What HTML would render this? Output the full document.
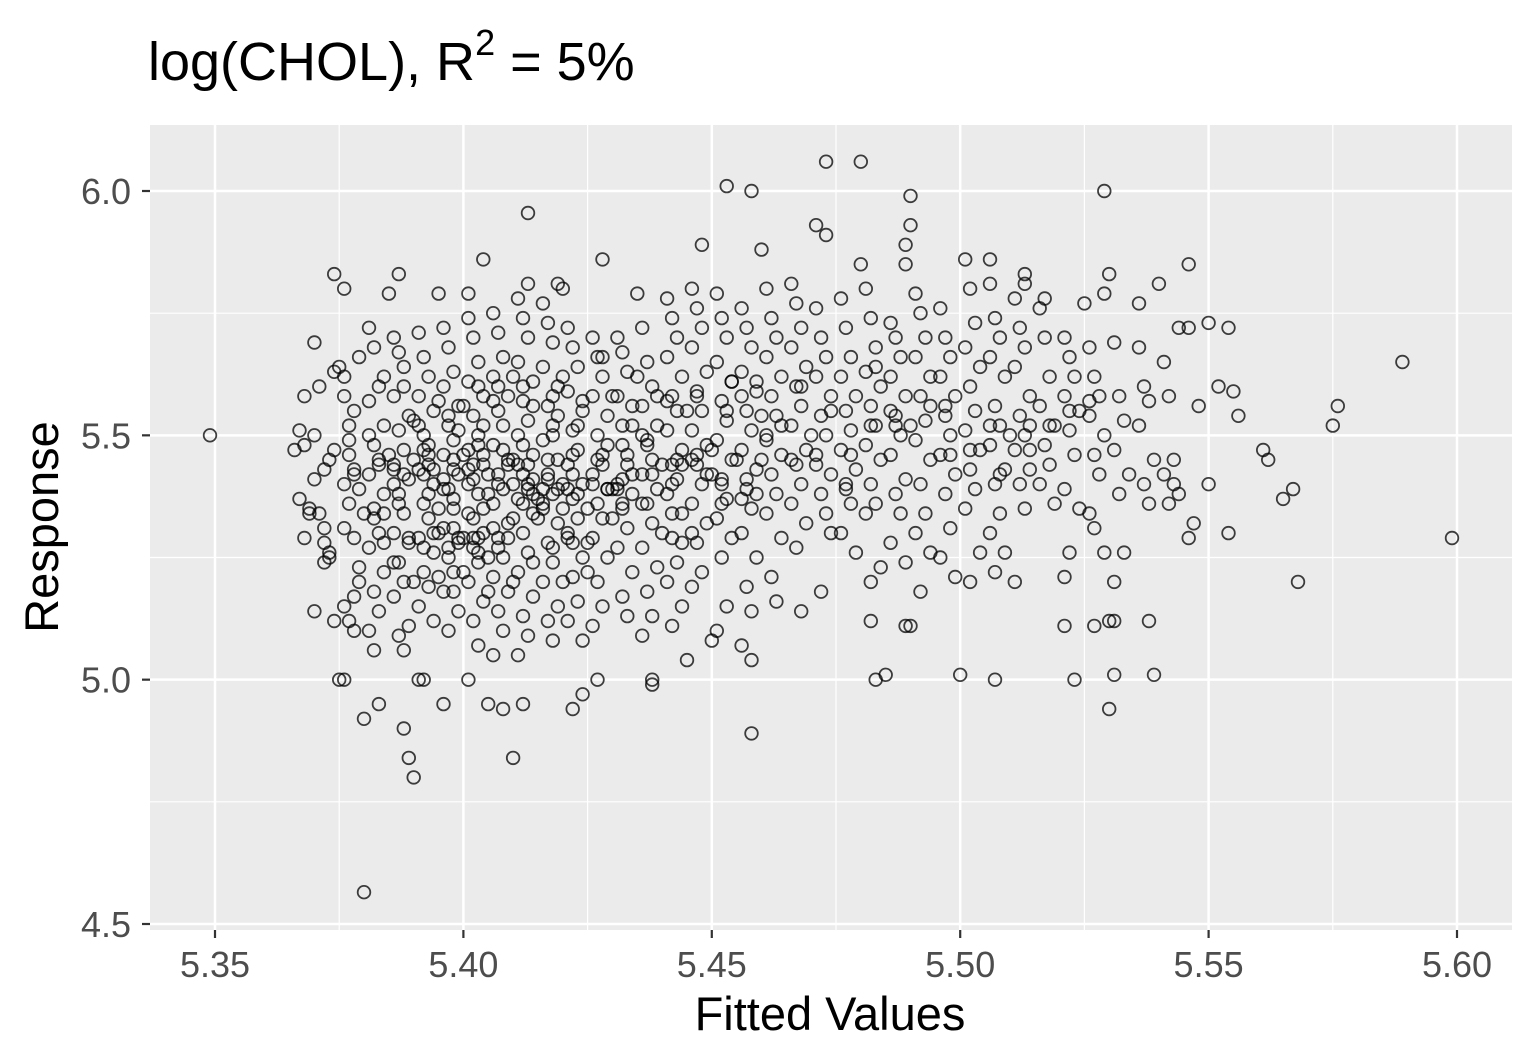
<!DOCTYPE html>
<html><head><meta charset="utf-8"><style>
html,body{margin:0;padding:0;background:#fff;}
svg{display:block;font-family:"Liberation Sans",Arial,sans-serif;}
</style></head><body>
<svg id="chart" width="1535" height="1062" viewBox="0 0 1535 1062">
<text x="148" y="80" font-size="54" fill="#000">log(CHOL), R<tspan dy="-25" font-size="36">2</tspan><tspan dy="25"> = 5%</tspan></text>
<rect x="150" y="125" width="1362" height="805" fill="#ebebeb"/>
<g id="grid"></g>
<g id="axes"></g>
<g id="pts"></g>
<text x="830" y="1030" font-size="47" text-anchor="middle" fill="#000">Fitted Values</text>
<text transform="translate(58,527) rotate(-90)" font-size="47" text-anchor="middle" fill="#000">Response</text>
</svg>
<script>
const xTicks=[5.35,5.40,5.45,5.50,5.55,5.60];
const xTickLabels=["5.35","5.40","5.45","5.50","5.55","5.60"];
const yTicks=[4.5,5.0,5.5,6.0];
const yTickLabels=["4.5","5.0","5.5","6.0"];
const outliers=[[5.349,5.50],[5.380,4.565],[5.413,5.955],[5.453,6.01],[5.458,6.00],[5.473,6.06],[5.480,6.06],[5.490,5.99],[5.529,6.00],[5.589,5.65],[5.599,5.29],[5.576,5.56],[5.575,5.52],[5.568,5.20],[5.567,5.39],[5.565,5.37],[5.562,5.45],[5.561,5.47],[5.554,5.30],[5.556,5.54],[5.550,5.73],[5.554,5.72],[5.546,5.85],[5.547,5.32],[5.546,5.29],[5.548,5.56],[5.550,5.40],[5.552,5.60],[5.555,5.59],[5.539,5.01],[5.538,5.12],[5.531,5.01],[5.530,4.94],[5.530,5.12],[5.531,5.12],[5.527,5.11],[5.523,5.00],[5.521,5.11],[5.507,5.00],[5.500,5.01],[5.483,5.00],[5.485,5.01],[5.482,5.12],[5.489,5.11],[5.490,5.11],[5.458,4.89],[5.445,5.04],[5.410,4.84],[5.390,4.80],[5.389,4.84],[5.388,4.90],[5.380,4.92],[5.383,4.95],[5.376,5.00],[5.375,5.00],[5.391,5.00],[5.392,5.00],[5.396,4.95],[5.401,5.00],[5.405,4.95],[5.408,4.94],[5.412,4.95],[5.422,4.94],[5.424,4.97],[5.427,5.00],[5.438,5.00],[5.438,4.99],[5.450,5.08],[5.456,5.07],[5.458,5.04],[5.468,5.14],[5.472,5.18],[5.473,5.91],[5.471,5.93],[5.460,5.88],[5.448,5.89],[5.490,5.93],[5.489,5.89],[5.489,5.85],[5.480,5.85],[5.506,5.86],[5.513,5.83],[5.513,5.81],[5.517,5.78],[5.525,5.77],[5.529,5.79],[5.530,5.83],[5.540,5.81],[5.536,5.77],[5.544,5.72],[5.546,5.72],[5.413,5.81],[5.419,5.81],[5.420,5.80],[5.404,5.86],[5.428,5.86],[5.435,5.79],[5.376,5.80],[5.374,5.83],[5.387,5.83],[5.385,5.79],[5.395,5.79],[5.401,5.79],[5.370,5.69]];
const cloud=[
[5.367,5.37],[5.369,5.34],[5.368,5.29],[5.372,5.28],[5.371,5.34],[5.373,5.26],[5.373,5.25],[5.372,5.24],[5.370,5.14],[5.374,5.12],[5.373,5.45],[5.374,5.47],[5.372,5.43],[5.370,5.41],[5.374,5.63],[5.371,5.60],[5.375,5.64],[5.370,5.50],[5.368,5.48],[5.372,5.31],[5.369,5.35],[5.368,5.58],[5.367,5.51],[5.366,5.47],
[5.376,5.62],[5.377,5.46],[5.378,5.43],[5.376,5.40],[5.379,5.39],[5.377,5.36],[5.376,5.31],[5.378,5.29],[5.379,5.23],[5.377,5.12],[5.378,5.10],[5.376,5.15],[5.379,5.20],[5.378,5.17],[5.377,5.52],[5.378,5.55],[5.376,5.58],[5.379,5.66],[5.380,5.34],[5.378,5.42],[5.377,5.49],
[5.381,5.72],[5.382,5.68],[5.383,5.60],[5.381,5.57],[5.384,5.52],[5.382,5.48],[5.383,5.44],[5.381,5.42],[5.384,5.38],[5.382,5.35],[5.383,5.30],[5.381,5.27],[5.384,5.22],[5.382,5.18],[5.383,5.14],[5.381,5.10],[5.382,5.06],[5.384,5.28],[5.383,5.45],[5.381,5.50],[5.384,5.62],[5.382,5.33],
[5.386,5.70],[5.387,5.67],[5.388,5.64],[5.386,5.58],[5.389,5.54],[5.387,5.51],[5.388,5.47],[5.386,5.44],[5.389,5.41],[5.387,5.38],[5.388,5.34],[5.386,5.30],[5.389,5.28],[5.387,5.24],[5.388,5.20],[5.386,5.17],[5.389,5.11],[5.387,5.09],[5.388,5.06],[5.386,5.43],[5.389,5.29],[5.387,5.36],[5.388,5.60],
[5.391,5.71],[5.392,5.66],[5.393,5.62],[5.391,5.58],[5.394,5.55],[5.392,5.50],[5.393,5.46],[5.391,5.43],[5.394,5.40],[5.392,5.36],[5.393,5.33],[5.391,5.29],[5.394,5.26],[5.392,5.22],[5.393,5.19],[5.391,5.15],[5.394,5.12],[5.392,5.42],[5.393,5.48],[5.391,5.52],[5.394,5.30],[5.392,5.27],[5.393,5.44],
[5.396,5.72],[5.397,5.68],[5.398,5.63],[5.396,5.60],[5.399,5.56],[5.397,5.52],[5.398,5.49],[5.396,5.46],[5.399,5.42],[5.397,5.39],[5.398,5.35],[5.396,5.31],[5.399,5.28],[5.397,5.25],[5.398,5.22],[5.396,5.18],[5.399,5.14],[5.397,5.10],[5.398,5.45],[5.396,5.41],[5.399,5.29],[5.397,5.54],[5.398,5.37],
[5.401,5.74],[5.402,5.70],[5.403,5.65],[5.401,5.61],[5.404,5.58],[5.402,5.54],[5.403,5.50],[5.401,5.47],[5.404,5.44],[5.402,5.41],[5.403,5.38],[5.401,5.34],[5.404,5.30],[5.402,5.27],[5.403,5.24],[5.401,5.20],[5.404,5.16],[5.402,5.12],[5.403,5.07],[5.401,5.43],[5.404,5.46],[5.402,5.29],[5.403,5.26],[5.401,5.40],[5.404,5.52],
[5.406,5.75],[5.407,5.71],[5.408,5.66],[5.406,5.62],[5.409,5.58],[5.407,5.55],[5.408,5.52],[5.406,5.48],[5.409,5.45],[5.407,5.42],[5.408,5.39],[5.406,5.36],[5.409,5.32],[5.407,5.29],[5.408,5.25],[5.406,5.21],[5.409,5.18],[5.407,5.14],[5.408,5.10],[5.406,5.05],[5.409,5.44],[5.407,5.40],[5.408,5.47],[5.406,5.57],
[5.411,5.78],[5.412,5.74],[5.413,5.70],[5.411,5.65],[5.414,5.61],[5.412,5.57],[5.413,5.53],[5.411,5.50],[5.414,5.46],[5.412,5.42],[5.413,5.39],[5.411,5.37],[5.414,5.34],[5.412,5.30],[5.413,5.26],[5.411,5.22],[5.414,5.17],[5.412,5.13],[5.413,5.09],[5.411,5.05],[5.414,5.38],[5.412,5.36],[5.413,5.40],[5.411,5.44],
[5.416,5.77],[5.417,5.73],[5.418,5.69],[5.416,5.64],[5.419,5.60],[5.417,5.56],[5.418,5.52],[5.416,5.49],[5.419,5.45],[5.417,5.41],[5.418,5.38],[5.416,5.35],[5.419,5.32],[5.417,5.28],[5.418,5.24],[5.416,5.20],[5.419,5.15],[5.417,5.12],[5.418,5.08],[5.416,5.36],[5.419,5.39],[5.417,5.42],
[5.421,5.72],[5.422,5.68],[5.423,5.64],[5.421,5.59],[5.424,5.55],[5.422,5.51],[5.423,5.47],[5.421,5.44],[5.424,5.40],[5.422,5.37],[5.423,5.33],[5.421,5.29],[5.424,5.25],[5.422,5.21],[5.423,5.16],[5.421,5.12],[5.424,5.08],[5.422,5.42],[5.423,5.38],[5.421,5.30],
[5.426,5.70],[5.427,5.66],[5.428,5.62],[5.426,5.58],[5.429,5.54],[5.427,5.50],[5.428,5.46],[5.426,5.42],[5.429,5.39],[5.427,5.36],[5.428,5.33],[5.426,5.29],[5.429,5.25],[5.427,5.20],[5.428,5.15],[5.426,5.11],[5.429,5.39],[5.427,5.45],
[5.431,5.70],[5.432,5.67],[5.433,5.63],[5.431,5.58],[5.434,5.52],[5.432,5.48],[5.433,5.44],[5.431,5.40],[5.434,5.38],[5.432,5.35],[5.433,5.31],[5.431,5.27],[5.434,5.22],[5.432,5.17],[5.433,5.13],[5.431,5.39],[5.434,5.42],[5.432,5.36],
[5.436,5.72],[5.437,5.65],[5.438,5.60],[5.436,5.56],[5.439,5.52],[5.437,5.48],[5.438,5.45],[5.436,5.42],[5.439,5.39],[5.437,5.36],[5.438,5.32],[5.436,5.27],[5.439,5.23],[5.437,5.18],[5.438,5.13],[5.436,5.09],[5.439,5.58],[5.437,5.49],
[5.441,5.78],[5.442,5.74],[5.443,5.70],[5.441,5.66],[5.444,5.62],[5.442,5.58],[5.443,5.55],[5.441,5.51],[5.444,5.47],[5.442,5.44],[5.443,5.41],[5.441,5.38],[5.444,5.34],[5.442,5.29],[5.443,5.24],[5.441,5.20],[5.444,5.15],[5.442,5.11],[5.443,5.45],[5.441,5.57],
[5.446,5.80],[5.447,5.76],[5.448,5.72],[5.446,5.68],[5.449,5.63],[5.447,5.59],[5.448,5.55],[5.446,5.51],[5.449,5.48],[5.447,5.44],[5.448,5.40],[5.446,5.36],[5.449,5.32],[5.447,5.28],[5.448,5.22],[5.446,5.19],[5.449,5.42],[5.447,5.58],
[5.451,5.79],[5.452,5.74],[5.453,5.70],[5.451,5.65],[5.454,5.61],[5.452,5.57],[5.453,5.53],[5.451,5.49],[5.454,5.45],[5.452,5.41],[5.453,5.37],[5.451,5.33],[5.454,5.29],[5.452,5.25],[5.453,5.15],[5.451,5.10],[5.454,5.61],[5.452,5.40],
[5.456,5.76],[5.457,5.72],[5.458,5.68],[5.456,5.63],[5.459,5.59],[5.457,5.55],[5.458,5.51],[5.456,5.47],[5.459,5.43],[5.457,5.39],[5.458,5.35],[5.456,5.30],[5.459,5.25],[5.457,5.19],[5.458,5.14],[5.456,5.37],[5.459,5.61],
[5.461,5.80],[5.462,5.74],[5.463,5.70],[5.461,5.66],[5.464,5.62],[5.462,5.58],[5.463,5.54],[5.461,5.50],[5.464,5.46],[5.462,5.42],[5.463,5.38],[5.461,5.34],[5.464,5.29],[5.462,5.21],[5.463,5.16],[5.461,5.49],
[5.466,5.81],[5.467,5.77],[5.468,5.72],[5.466,5.68],[5.469,5.64],[5.467,5.60],[5.468,5.56],[5.466,5.52],[5.469,5.47],[5.467,5.44],[5.468,5.40],[5.466,5.36],[5.469,5.32],[5.467,5.27],[5.468,5.60],
[5.471,5.76],[5.472,5.70],[5.473,5.66],[5.471,5.62],[5.474,5.58],[5.472,5.54],[5.473,5.50],[5.471,5.46],[5.474,5.42],[5.472,5.38],[5.473,5.34],[5.474,5.30],[5.471,5.44],
[5.476,5.78],[5.477,5.72],[5.478,5.66],[5.476,5.62],[5.479,5.58],[5.477,5.55],[5.478,5.51],[5.476,5.47],[5.479,5.43],[5.477,5.39],[5.478,5.36],[5.476,5.30],[5.479,5.26],[5.477,5.40],
[5.481,5.80],[5.482,5.74],[5.483,5.68],[5.481,5.63],[5.484,5.60],[5.482,5.56],[5.483,5.52],[5.481,5.48],[5.484,5.45],[5.482,5.40],[5.483,5.36],[5.481,5.34],[5.484,5.23],[5.482,5.20],[5.483,5.64],
[5.486,5.73],[5.487,5.70],[5.488,5.66],[5.486,5.62],[5.489,5.58],[5.487,5.54],[5.488,5.50],[5.486,5.46],[5.489,5.41],[5.487,5.38],[5.488,5.34],[5.486,5.28],[5.489,5.24],[5.487,5.52],
[5.491,5.79],[5.492,5.75],[5.493,5.70],[5.491,5.66],[5.494,5.62],[5.492,5.58],[5.493,5.53],[5.491,5.49],[5.494,5.45],[5.492,5.40],[5.493,5.34],[5.491,5.30],[5.494,5.26],[5.492,5.18],
[5.496,5.76],[5.497,5.70],[5.498,5.66],[5.496,5.62],[5.499,5.58],[5.497,5.54],[5.498,5.50],[5.496,5.46],[5.499,5.42],[5.497,5.38],[5.498,5.31],[5.496,5.25],[5.499,5.21],[5.497,5.56],
[5.501,5.86],[5.502,5.80],[5.503,5.73],[5.501,5.68],[5.504,5.64],[5.502,5.60],[5.503,5.55],[5.501,5.51],[5.504,5.47],[5.502,5.43],[5.503,5.39],[5.501,5.35],[5.504,5.26],[5.502,5.20],
[5.506,5.81],[5.507,5.74],[5.508,5.70],[5.506,5.66],[5.509,5.62],[5.507,5.56],[5.508,5.52],[5.506,5.48],[5.509,5.43],[5.507,5.40],[5.508,5.34],[5.506,5.30],[5.509,5.26],[5.507,5.22],[5.508,5.42],
[5.511,5.78],[5.512,5.72],[5.513,5.68],[5.511,5.64],[5.514,5.58],[5.512,5.54],[5.513,5.50],[5.511,5.47],[5.514,5.43],[5.512,5.40],[5.513,5.35],[5.511,5.20],[5.514,5.52],
[5.516,5.76],[5.517,5.70],[5.518,5.62],[5.516,5.56],[5.519,5.52],[5.517,5.48],[5.518,5.44],[5.516,5.40],[5.519,5.36],
[5.521,5.70],[5.522,5.66],[5.523,5.62],[5.521,5.58],[5.524,5.55],[5.522,5.51],[5.523,5.46],[5.521,5.39],[5.524,5.35],[5.522,5.26],[5.521,5.21],
[5.526,5.68],[5.527,5.62],[5.528,5.58],[5.526,5.54],[5.529,5.50],[5.527,5.46],[5.528,5.42],[5.526,5.34],[5.529,5.26],[5.527,5.31],
[5.531,5.69],[5.532,5.58],[5.533,5.53],[5.531,5.47],[5.534,5.42],[5.532,5.38],[5.533,5.26],[5.531,5.20],
[5.536,5.68],[5.537,5.60],[5.538,5.57],[5.536,5.52],[5.539,5.45],[5.537,5.40],[5.538,5.36],
[5.541,5.65],[5.542,5.58],[5.543,5.45],[5.541,5.42],[5.544,5.38],[5.542,5.36],[5.543,5.40]];
const denseCore=[
[5.392,5.47],[5.394,5.43],[5.396,5.39],[5.398,5.43],[5.400,5.46],[5.399,5.51],[5.402,5.44],[5.403,5.48],[5.405,5.42],[5.405,5.38],[5.404,5.35],[5.406,5.31],[5.407,5.27],[5.409,5.29],[5.410,5.33],[5.410,5.40],[5.410,5.45],[5.412,5.48],[5.413,5.44],[5.414,5.41],[5.415,5.37],[5.415,5.33],[5.416,5.39],[5.417,5.45],[5.418,5.50],[5.419,5.54],[5.420,5.40],[5.420,5.35],[5.421,5.39],[5.422,5.46],[5.423,5.52],[5.424,5.57],[5.425,5.35],[5.425,5.28],[5.426,5.40],[5.428,5.44],[5.429,5.48],[5.430,5.39],[5.430,5.33],[5.432,5.41],[5.433,5.46],[5.434,5.56],[5.435,5.62],[5.436,5.50],[5.438,5.42],[5.440,5.44],[5.442,5.40],[5.444,5.44],[5.445,5.55],[5.447,5.46],[5.450,5.42],[5.452,5.36],[5.455,5.45],[5.457,5.41],[5.459,5.38],[5.460,5.45],
[5.395,5.30],[5.397,5.27],[5.398,5.31],[5.400,5.29],[5.402,5.33],[5.403,5.29],[5.405,5.25],[5.395,5.35],[5.393,5.38],[5.390,5.45],[5.388,5.42],[5.385,5.46],[5.390,5.53],[5.395,5.57],[5.400,5.56],[5.403,5.60],[5.407,5.60],[5.410,5.62],[5.412,5.60],[5.414,5.56],[5.418,5.58],[5.420,5.62],[5.422,5.28],[5.425,5.22],[5.420,5.20],[5.418,5.27],[5.414,5.24],[5.410,5.20],[5.405,5.18],[5.400,5.22],[5.398,5.18],[5.395,5.21],[5.390,5.20],[5.386,5.24],[5.384,5.34],[5.386,5.40],
[5.430,5.58],[5.428,5.66],[5.432,5.52],[5.436,5.36],[5.440,5.30],[5.444,5.28],[5.446,5.30],[5.442,5.34],[5.446,5.45],[5.450,5.47],[5.453,5.55],[5.456,5.58],[5.460,5.54],[5.464,5.52],[5.466,5.45],[5.470,5.50],[5.474,5.55],[5.478,5.46],[5.482,5.52],[5.486,5.55],[5.490,5.52],[5.494,5.56],[5.498,5.46],[5.502,5.47],[5.506,5.52],[5.510,5.50],[5.514,5.47],[5.518,5.52],[5.522,5.55],[5.526,5.57]];

const NS='http://www.w3.org/2000/svg';
const L=150,R=1512,T=125,B=930;
function sx(v){return 215+(v-5.35)/0.25*(1457-215);}
function sy(v){return 191+(6.0-v)/1.5*(924-191);}
const grid=document.getElementById('grid'),axes=document.getElementById('axes'),pts=document.getElementById('pts');
function line(g,x1,y1,x2,y2,stroke,w,name){const l=document.createElementNS(NS,'line');l.setAttribute('x1',x1);l.setAttribute('y1',y1);l.setAttribute('x2',x2);l.setAttribute('y2',y2);l.setAttribute('stroke',stroke);l.setAttribute('stroke-width',w);


g.appendChild(l);}
function txt(g,x,y,s,anchor,name){const t=document.createElementNS(NS,'text');t.setAttribute('x',x);t.setAttribute('y',y);t.setAttribute('font-size','36');t.setAttribute('fill','#4d4d4d');t.setAttribute('text-anchor',anchor);t.textContent=s;


g.appendChild(t);}
for(let i=0;i<xTicks.length-1;i++){const m=(xTicks[i]+xTicks[i+1])/2;line(grid,sx(m),T,sx(m),B,'#fff',1.2,'x-minor-grid');}
for(let i=0;i<yTicks.length-1;i++){const m=(yTicks[i]+yTicks[i+1])/2;line(grid,L,sy(m),R,sy(m),'#fff',1.2,'y-minor-grid');}
xTicks.forEach((v,i)=>{line(grid,sx(v),T,sx(v),B,'#fff',2.5,'x-major-grid');line(axes,sx(v),B,sx(v),B+8,'#333',2.2,'x-tick');txt(axes,sx(v),977,xTickLabels[i],'middle','x-tick-label');});
yTicks.forEach((v,i)=>{line(grid,L,sy(v),R,sy(v),'#fff',2.5,'y-major-grid');line(axes,L-8,sy(v),L,sy(v),'#333',2.2,'y-tick');txt(axes,131,sy(v)+13,yTickLabels[i],'end','y-tick-label');});
function dot(p){const c=document.createElementNS(NS,'circle');c.setAttribute('cx',sx(p[0]).toFixed(1));c.setAttribute('cy',sy(p[1]).toFixed(1));c.setAttribute('r','6.3');c.setAttribute('fill','none');c.setAttribute('stroke','rgba(0,0,0,0.75)');c.setAttribute('stroke-width','1.8');


pts.appendChild(c);}
outliers.forEach(dot);
cloud.forEach(dot);
denseCore.forEach(dot);
</script>
</body></html>
